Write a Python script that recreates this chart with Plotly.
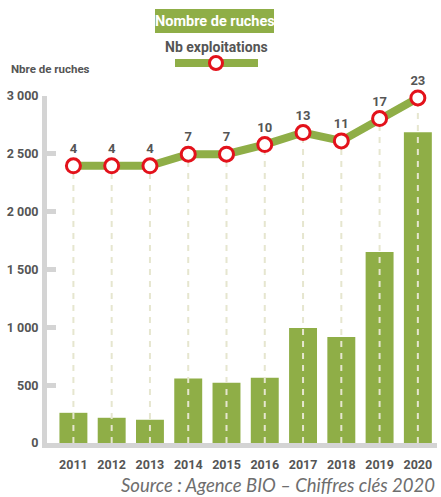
import plotly.graph_objects as go

years = ["2011", "2012", "2013", "2014", "2015", "2016", "2017", "2018", "2019", "2020"]
ruches = [261, 218, 201, 557, 521, 564, 995, 917, 1652, 2687]
exploitations = [4, 4, 4, 7, 7, 10, 13, 11, 17, 23]
# height of the exploitations line, read on the left axis scale
line_level = [2396, 2396, 2396, 2497, 2497, 2580, 2684, 2612, 2805, 2983]
y_ticks = [0, 500, 1000, 1500, 2000, 2500, 3000]

GREEN = "#8fae47"
RED = "#e3121b"
GRAY_TXT = "#555555"
AXIS_GRAY = "#d4d4d4"
DASH = "#e6e6cf"
FONT = "Roboto, sans-serif"

fig = go.Figure()

fig.add_trace(go.Bar(x=years, y=ruches, marker=dict(color=GREEN, line=dict(width=0)),
                     hoverinfo="skip", showlegend=False))

# dashed drop lines from each point down to the axis
dx, dy = [], []
for yr, lv in zip(years, line_level):
    dx += [yr, yr, None]
    dy += [0, lv, None]
fig.add_trace(go.Scatter(x=dx, y=dy, mode="lines",
                         line=dict(color=DASH, width=2, dash="6px,6px"),
                         hoverinfo="skip", showlegend=False))

fig.add_trace(go.Scatter(x=years, y=line_level, mode="lines+markers+text",
                         line=dict(color=GREEN, width=8),
                         marker=dict(size=14, color="white", line=dict(color=RED, width=3)),
                         text=[str(v) for v in exploitations], textposition="top center",
                         textfont=dict(family=FONT, size=13, color=GRAY_TXT, weight="bold"),
                         cliponaxis=False, hoverinfo="skip", showlegend=False))

fig.update_layout(
    width=441, height=497,
    margin=dict(l=47, r=4, t=96, b=54),
    paper_bgcolor="white", plot_bgcolor="white",
    separators=", ",
    bargap=0.27,
    xaxis=dict(type="category", range=[-0.69, 9.5], showgrid=False, zeroline=False,
               showline=True, linewidth=5, linecolor=AXIS_GRAY, ticks="",
               tickfont=dict(family=FONT, size=12.5, color=GRAY_TXT, weight="bold"),
               ticklabelstandoff=6),
    yaxis=dict(range=[0, 3000], tickvals=y_ticks, tickformat=",d", showgrid=False,
               zeroline=False, showline=True, linewidth=5, linecolor=AXIS_GRAY,
               ticks="inside", ticklen=9, tickwidth=5, tickcolor=AXIS_GRAY,
               tickfont=dict(family=FONT, size=12.5, color=GRAY_TXT, weight="bold"),
               ticklabelstandoff=1),
    font=dict(family=FONT),
)

# legend (drawn)
fig.add_shape(type="rect", xref="paper", yref="paper", xsizemode="pixel", ysizemode="pixel",
              xanchor=(215 - 47) / 390, yanchor=1 + (96 - 21) / 347,
              x0=-60, x1=59, y0=-12, y1=12, fillcolor=GREEN, line=dict(width=0), layer="above")
fig.add_annotation(xref="paper", yref="paper", x=(215 - 47) / 390, y=1 + (96 - 21) / 347,
                   text="Nombre de ruches", showarrow=False, xanchor="center", yanchor="middle",
                   font=dict(family=FONT, size=14.5, color="white", weight="bold"))
fig.add_annotation(xref="paper", yref="paper", x=(216 - 47) / 390, y=1 + (96 - 47) / 347,
                   text="Nb exploitations", showarrow=False, xanchor="center", yanchor="middle",
                   font=dict(family=FONT, size=14, color=GRAY_TXT, weight="bold"))
fig.add_shape(type="line", xref="paper", yref="paper",
              x0=(175 - 47) / 390, x1=(258 - 47) / 390,
              y0=1 + (96 - 63) / 347, y1=1 + (96 - 63) / 347,
              line=dict(color=GREEN, width=8))
fig.add_shape(type="circle", xref="paper", yref="paper", xsizemode="pixel", ysizemode="pixel",
              xanchor=(216 - 47) / 390, yanchor=1 + (96 - 63) / 347,
              x0=-6.5, x1=6.5, y0=-6.5, y1=6.5, fillcolor="white",
              line=dict(color=RED, width=3))

fig.add_annotation(xref="paper", yref="paper", x=-38 / 390, y=1 + (96 - 69) / 347,
                   text="Nbre de ruches", showarrow=False, xanchor="left", yanchor="middle",
                   font=dict(family=FONT, size=11.5, color=GRAY_TXT, weight="bold"))

fig.add_annotation(xref="paper", yref="paper", x=1, y=-(485 - 443) / 347,
                   text="<i>Source : Agence BIO – Chiffres clés 2020</i>", showarrow=False,
                   xanchor="right", yanchor="middle",
                   font=dict(family="Lato, Open Sans, sans-serif", size=18.5, color="#6e6e6e",
                             weight=400))

fig.write_html("out.html", config={"displayModeBar": False},
               post_script="document.body.style.margin='0px';")
